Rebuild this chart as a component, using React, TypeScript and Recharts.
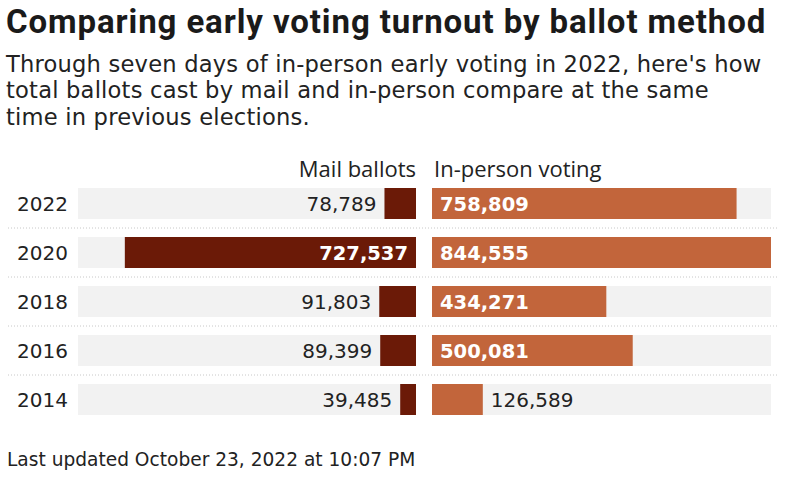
import React from "react";
import { BarChart, Bar, XAxis, YAxis, CartesianGrid, LabelList } from "recharts";

const years = ["2022", "2020", "2018", "2016", "2014"];
const mailBallots = [78789, 727537, 91803, 89399, 39485];
const inPersonVotes = [758809, 844555, 434271, 500081, 126589];
const axisMax = 844555;

const data = years.map((year, i) => ({ year, mail: mailBallots[i], inPerson: inPersonVotes[i] }));

const MAIL = "#6b1a07";
const IN_PERSON = "#c2653b";
const TRACK = "#f2f2f2";
const INK = "#222";
const NUM_FONT = "'DejaVu Sans', sans-serif";
const TEXT_FONT = "'Open Sans', sans-serif";

const fmt = (v: number) => v.toLocaleString("en-US");

// row separators sit on the band boundaries, not on the ticks
const separators = ({ offset }: any) => [1, 2, 3, 4].map((i) => offset.top + (offset.height * i) / 5);

const MailLabel = (props: any) => {
  const { x, y, width, height, value } = props;
  const left = Math.min(x, x + width);
  const right = Math.max(x, x + width);
  const cy = y + height / 2;
  if (right - left > 100) {
    return (
      <text x={right - 8} y={cy} dy="0.36em" textAnchor="end" fill="#fff" fontFamily={NUM_FONT} fontWeight={700} fontSize={19.5}>
        {fmt(value)}
      </text>
    );
  }
  return (
    <text x={left - 8} y={cy} dy="0.36em" textAnchor="end" fill={INK} fontFamily={NUM_FONT} fontSize={20}>
      {fmt(value)}
    </text>
  );
};

const InPersonLabel = (props: any) => {
  const { x, y, width, height, value } = props;
  const cy = y + height / 2;
  if (width > 100) {
    return (
      <text x={x + 8} y={cy} dy="0.36em" fill="#fff" fontFamily={NUM_FONT} fontWeight={700} fontSize={19.5}>
        {fmt(value)}
      </text>
    );
  }
  return (
    <text x={x + width + 8} y={cy} dy="0.36em" fill={INK} fontFamily={NUM_FONT} fontSize={20}>
      {fmt(value)}
    </text>
  );
};

export default function App() {
  return (
    <div style={{ position: "absolute", left: 0, top: 0, width: 787, height: 480, background: "#fff", overflow: "hidden", color: INK }}>
      <div style={{ position: "absolute", left: 6, top: 3, fontFamily: "Roboto, sans-serif", fontWeight: 700, fontSize: 33, letterSpacing: 0.9, lineHeight: "38px", whiteSpace: "nowrap", color: "#1a1a1a" }}>
        Comparing early voting turnout by ballot method
      </div>
      <div style={{ position: "absolute", left: 6, top: 50.5, fontFamily: NUM_FONT, fontSize: 22.6, letterSpacing: 0.2, lineHeight: "26.7px", whiteSpace: "nowrap" }}>
        <div>Through seven days of in-person early voting in 2022, here's how</div>
        <div>total ballots cast by mail and in-person compare at the same</div>
        <div>time in previous elections.</div>
      </div>
      <div style={{ position: "absolute", right: 787 - 416, top: 154.5, fontFamily: TEXT_FONT, fontSize: 22, lineHeight: "27px", whiteSpace: "nowrap" }}>
        Mail ballots
      </div>
      <div style={{ position: "absolute", left: 434, top: 154.5, fontFamily: TEXT_FONT, fontSize: 22, lineHeight: "27px", whiteSpace: "nowrap" }}>
        In-person voting
      </div>

      <div style={{ position: "absolute", left: 0, top: 150 }}>
        <BarChart width={416} height={290} data={data} layout="vertical" margin={{ top: 29, right: 0, bottom: 16, left: 0 }}>
          <CartesianGrid
            vertical={false}
            horizontalCoordinatesGenerator={separators}
            horizontal={(p: any) => <line key={p.key} x1={8} x2={p.x2} y1={p.y1} y2={p.y2} stroke="#c8c8c8" strokeDasharray="1 2" />}
          />
          <XAxis type="number" domain={[0, axisMax]} reversed hide />
          <YAxis
            type="category"
            dataKey="year"
            width={78}
            axisLine={false}
            tickLine={false}
            tickMargin={4}
            tick={{ fill: INK, fontSize: 20, fontFamily: NUM_FONT }}
          />
          <Bar dataKey="mail" fill={MAIL} barSize={31} background={{ fill: TRACK }} isAnimationActive={false}>
            <LabelList dataKey="mail" content={MailLabel} />
          </Bar>
        </BarChart>
      </div>

      <div style={{ position: "absolute", left: 416, top: 150 }}>
        <BarChart width={371} height={290} data={data} layout="vertical" margin={{ top: 29, right: 16, bottom: 16, left: 16 }}>
          <CartesianGrid
            vertical={false}
            horizontalCoordinatesGenerator={separators}
            horizontal={(p: any) => <line key={p.key} x1={0} x2={p.x2 + 7} y1={p.y1} y2={p.y2} stroke="#c8c8c8" strokeDasharray="1 2" />}
          />
          <XAxis type="number" domain={[0, axisMax]} hide />
          <YAxis type="category" dataKey="year" hide />
          <Bar dataKey="inPerson" fill={IN_PERSON} barSize={31} background={{ fill: TRACK }} isAnimationActive={false}>
            <LabelList dataKey="inPerson" content={InPersonLabel} />
          </Bar>
        </BarChart>
      </div>

      <div style={{ position: "absolute", left: 7, top: 448.3, fontFamily: NUM_FONT, fontSize: 18.6, lineHeight: "24px", whiteSpace: "nowrap" }}>
        Last updated October 23, 2022 at 10:07 PM
      </div>
    </div>
  );
}
